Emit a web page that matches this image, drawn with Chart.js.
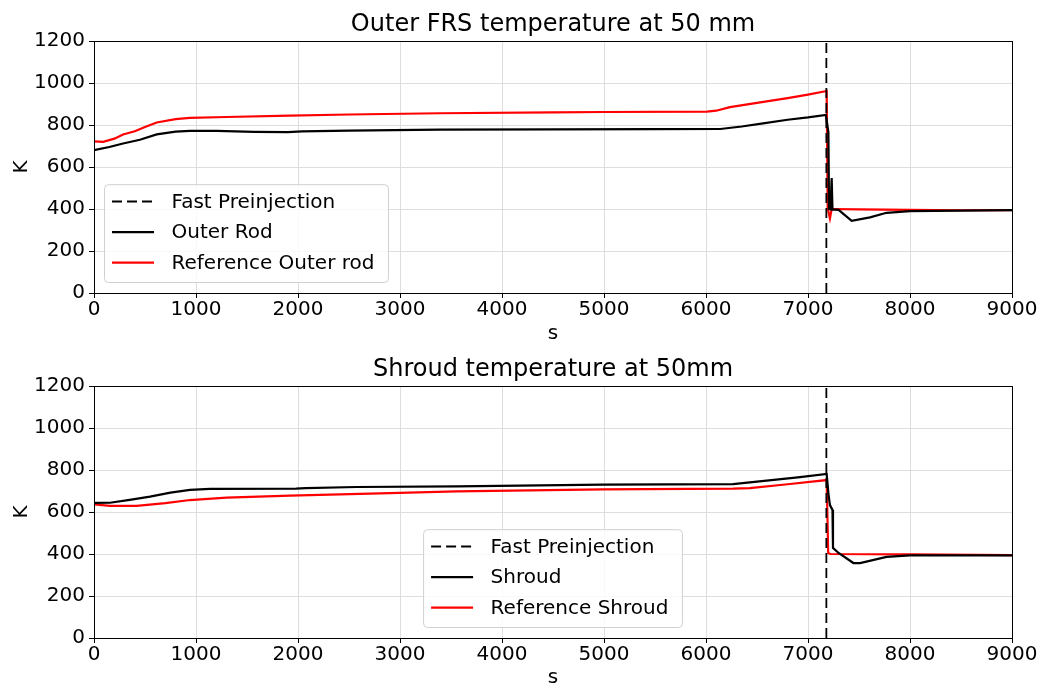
<!DOCTYPE html>
<html>
<head>
<meta charset="utf-8">
<script src="https://cdn.jsdelivr.net/npm/chart.js@4/dist/chart.umd.min.js"></script>
<style>
  html, body { margin: 0; padding: 0; background: #fff; overflow: hidden; }
  .panel { position: absolute; left: 0; width: 1041px; height: 344px; }
  #topPanel { top: 0; }
  #bottomPanel { top: 344px; }
</style>
</head>
<body>
<div class="panel" id="topPanel"><canvas id="outerChart" width="1041" height="344"></canvas></div>
<div class="panel" id="bottomPanel"><canvas id="shroudChart" width="1041" height="344"></canvas></div>
<script>
// Time of the fast preinjection event (s)
const preinjectionTime = 7180;
const kRange = [0, 1200];

// Outer FRS rod temperature at 50 mm (s, K)
const outerRodTime = [0, 150, 285, 450, 615, 800, 940, 1200, 1570, 1900, 2040, 2500, 3390, 4500, 5500, 6140, 6350, 6560, 6800, 7000, 7175, 7200, 7206, 7220, 7232, 7240, 7300, 7428, 7608, 7770, 8000, 9000];
const outerRodTemp = [680, 695, 712, 730, 755, 768, 772, 772, 767, 766, 770, 773, 778, 779, 780, 781, 793, 808, 825, 836, 848, 765, 400, 398, 548, 398, 396, 344, 360, 382, 390, 395];

const refOuterTime = [0, 90, 200, 285, 400, 500, 615, 800, 940, 1300, 1920, 2500, 3390, 4500, 5000, 6010, 6100, 6235, 6500, 6800, 7000, 7183, 7193, 7215, 7232, 7500, 8000, 8500, 9000];
const refOuterTemp = [722, 720, 735, 755, 770, 790, 812, 828, 834, 838, 845, 850, 856, 860, 862, 864, 868, 885, 905, 928, 945, 962, 405, 355, 400, 398, 396, 394, 395];

// Shroud temperature at 50 mm (s, K)
const shroudTime = [0, 157, 350, 549, 750, 941, 1137, 1980, 2075, 2575, 3556, 4990, 6265, 6594, 6900, 7183, 7200, 7215, 7240, 7245, 7300, 7445, 7510, 7770, 8000, 9000];
const shroudTemp = [643, 644, 658, 673, 692, 705, 710, 711, 714, 719, 722, 730, 733, 749, 765, 781, 689, 633, 610, 429, 405, 357, 357, 386, 393, 393];

const refShroudTime = [0, 157, 418, 700, 941, 1300, 1920, 2900, 3556, 4990, 6265, 6430, 6800, 7183, 7198, 7220, 8000, 9000];
const refShroudTemp = [636, 629, 629, 642, 657, 668, 678, 690, 698, 708, 711, 714, 732, 752, 405, 400, 398, 395];

const xTickStep = 1000;
const yTickStep = 200;

const FONT = '"DejaVu Sans", "Liberation Sans", sans-serif';

function points(times, temps) {
  return times.map((t, i) => ({ x: t, y: temps[i] }));
}

// Title centred over the plot area
const areaTitle = {
  id: 'areaTitle',
  afterDraw(chart, args, opts) {
    const { ctx, chartArea: a } = chart;
    ctx.save();
    ctx.font = '24px ' + FONT;
    ctx.fillStyle = '#000';
    ctx.textAlign = 'center';
    ctx.textBaseline = 'middle';
    ctx.fillText(opts.text, (a.left + a.right) / 2, a.top - opts.gap);
    ctx.restore();
  }
};

// Legend drawn inside the plot area, matplotlib style
const insetLegend = {
  id: 'insetLegend',
  afterDatasetsDraw(chart, args, opts) {
    const ctx = chart.ctx, area = chart.chartArea;
    const sets = chart.data.datasets;
    ctx.save();
    ctx.font = opts.fontSize + 'px ' + FONT;
    const textW = Math.max(...sets.map(d => ctx.measureText(d.label).width));
    const w = opts.padL + opts.sample + opts.gap + textW + opts.padR;
    const h = opts.rowH * sets.length + opts.padT + opts.padB;
    const x0 = opts.align === 'center' ? (area.left + area.right) / 2 - w / 2 : area.left + opts.inset;
    const y0 = area.bottom - opts.inset - h;
    ctx.beginPath();
    ctx.roundRect(x0, y0, w, h, 4);
    ctx.fillStyle = 'rgba(255,255,255,0.8)';
    ctx.fill();
    ctx.strokeStyle = '#d0d0d0';
    ctx.lineWidth = 1;
    ctx.stroke();
    sets.forEach((d, i) => {
      const cy = y0 + opts.padT + opts.rowH * (i + 0.5);
      ctx.beginPath();
      ctx.setLineDash(d.borderDash || []);
      ctx.strokeStyle = d.borderColor;
      ctx.lineWidth = d.borderWidth;
      ctx.moveTo(x0 + opts.padL, cy);
      ctx.lineTo(x0 + opts.padL + opts.sample, cy);
      ctx.stroke();
      ctx.setLineDash([]);
      ctx.fillStyle = '#000';
      ctx.textBaseline = 'middle';
      ctx.textAlign = 'left';
      ctx.fillText(d.label, x0 + opts.padL + opts.sample + opts.gap, cy + 1);
    });
    ctx.restore();
  }
};

// Black frame around the plot area
const frame = {
  id: 'frame',
  afterDraw(chart) {
    const { ctx, chartArea: a } = chart;
    ctx.save();
    ctx.strokeStyle = '#000';
    ctx.lineWidth = 1;
    ctx.strokeRect(Math.round(a.left) + 0.5, Math.round(a.top) + 0.5, Math.round(a.right - a.left), Math.round(a.bottom - a.top));
    ctx.restore();
  }
};

const plainNumber = v => String(v);

function makeChart(canvasId, title, series, legendAlign, topPad, xHeight) {
  const datasets = [
    {
      label: 'Fast Preinjection',
      data: [{ x: preinjectionTime, y: kRange[0] }, { x: preinjectionTime, y: kRange[1] }],
      borderColor: '#000', borderWidth: 1.8, borderDash: [10, 5]
    },
    { label: series[0].label, data: series[0].data, borderColor: '#000', borderWidth: 2.2 },
    { label: series[1].label, data: series[1].data, borderColor: '#ff0000', borderWidth: 2.2 }
  ];
  return new Chart(document.getElementById(canvasId), {
    type: 'line',
    data: { datasets },
    plugins: [insetLegend, frame, areaTitle],
    options: {
      responsive: false,
      animation: false,
      devicePixelRatio: 1,
      elements: { point: { radius: 0 }, line: { tension: 0 } },
      layout: { padding: { left: 0, right: 29, top: topPad, bottom: 0 } },
      plugins: {
        legend: { display: false },
        tooltip: { enabled: false },
        title: { display: false },
        areaTitle: { text: title, gap: 16 },
        insetLegend: {
          align: legendAlign, fontSize: 20, inset: 10.5,
          padL: 7.5, sample: 42, gap: 17.5, padR: 14, rowH: 30.6, padT: 1.5, padB: 4.5
        }
      },
      scales: {
        x: {
          type: 'linear', min: 0, max: 9000,
          border: { display: false },
          grid: { color: '#dedede', lineWidth: 1, tickColor: '#000', tickLength: 5 },
          ticks: { stepSize: xTickStep, color: '#000', padding: 0, maxRotation: 0, callback: plainNumber, font: { family: FONT, size: 20 } },
          title: { display: true, text: 's', color: '#000', padding: { top: 0, bottom: -2 }, font: { family: FONT, size: 20 } },
          afterFit(scale) { scale.height = xHeight; }
        },
        y: {
          type: 'linear', min: kRange[0], max: kRange[1],
          border: { display: false },
          grid: { color: '#dedede', lineWidth: 1, tickColor: '#000', tickLength: 5 },
          ticks: { stepSize: yTickStep, color: '#000', padding: 4, callback: plainNumber, font: { family: FONT, size: 20 } },
          title: { display: true, text: 'K', color: '#000', padding: { top: 10, bottom: 0 }, font: { family: FONT, size: 20 } },
          afterFit(scale) { scale.width = 94; }
        }
      }
    }
  });
}

makeChart('outerChart', 'Outer FRS temperature at 50 mm', [
  { label: 'Outer Rod', data: points(outerRodTime, outerRodTemp) },
  { label: 'Reference Outer rod', data: points(refOuterTime, refOuterTemp) }
], 'left', 41, 51);

makeChart('shroudChart', 'Shroud temperature at 50mm', [
  { label: 'Shroud', data: points(shroudTime, shroudTemp) },
  { label: 'Reference Shroud', data: points(refShroudTime, refShroudTemp) }
], 'center', 42, 50);
</script>
</body>
</html>
